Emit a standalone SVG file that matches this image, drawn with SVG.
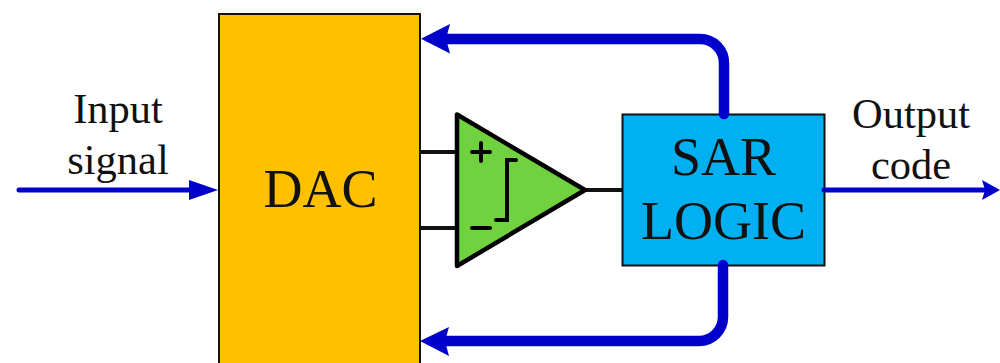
<svg xmlns="http://www.w3.org/2000/svg" width="1000" height="363" viewBox="0 0 1000 363">
<style>
text{font-family:"Liberation Serif","Times New Roman",serif;fill:#111;text-anchor:middle}
.box{stroke:#111;stroke-width:2}
.wire{fill:none;stroke:#111;stroke-width:4}
.thin{fill:none;stroke:#0000cc;stroke-width:5;stroke-linecap:round}
.thick{fill:none;stroke:#0000cc;stroke-width:10.500;stroke-linecap:round}
.head{fill:#0000cc}
.mark{fill:none;stroke:#000;stroke-width:4;stroke-linecap:round}
.big{font-size:54px}
.small{font-size:42.500px}
</style>
<rect width="1000" height="363" fill="#fff"/>
<g id="dac"><rect class="box" x="219" y="14" width="201" height="351" fill="#ffc000"/><text class="big" x="320.500" y="207">DAC</text></g>
<g id="sar"><rect class="box" x="622.500" y="114.500" width="202" height="151" fill="#00b0f0"/><text class="big" x="723.500" y="175">SAR</text><text class="big" x="723.500" y="239">LOGIC</text></g>
<g id="connectors">
<path class="thin" d="M19 190H192"/><path class="head" d="M189 180L218 190L189 200Z"/>
<path class="wire" d="M421 152H457M421 228H457M586 190H622"/>
<path class="thick" d="M724 114V63A24 24 0 0 0 700 39H445"/><path class="head" d="M421 38.700L450 24L446 38.700L450 53.500Z"/>
<path class="thick" d="M723 265V317A24 24 0 0 1 699 341H444"/><path class="head" d="M420 341L449 327L445 341L449 356Z"/>
<path class="thin" d="M824 190H987"/><path class="head" d="M982 180L1000 190L982 200L985 190Z"/>
</g>
<g id="comparator">
<path d="M457 114.500V266L585 190Z" fill="#70d23f" stroke="#000" stroke-width="4.500" stroke-linejoin="round"/>
<path class="mark" d="M472 152H490M481 143V161M472 228H490M496 220H507V160H516"/>
</g>
<g id="input-label"><text class="small" x="118" y="123">Input</text><text class="small" x="118" y="174">signal</text></g>
<g id="output-label"><text class="small" x="911" y="128">Output</text><text class="small" x="911" y="179">code</text></g>
</svg>
